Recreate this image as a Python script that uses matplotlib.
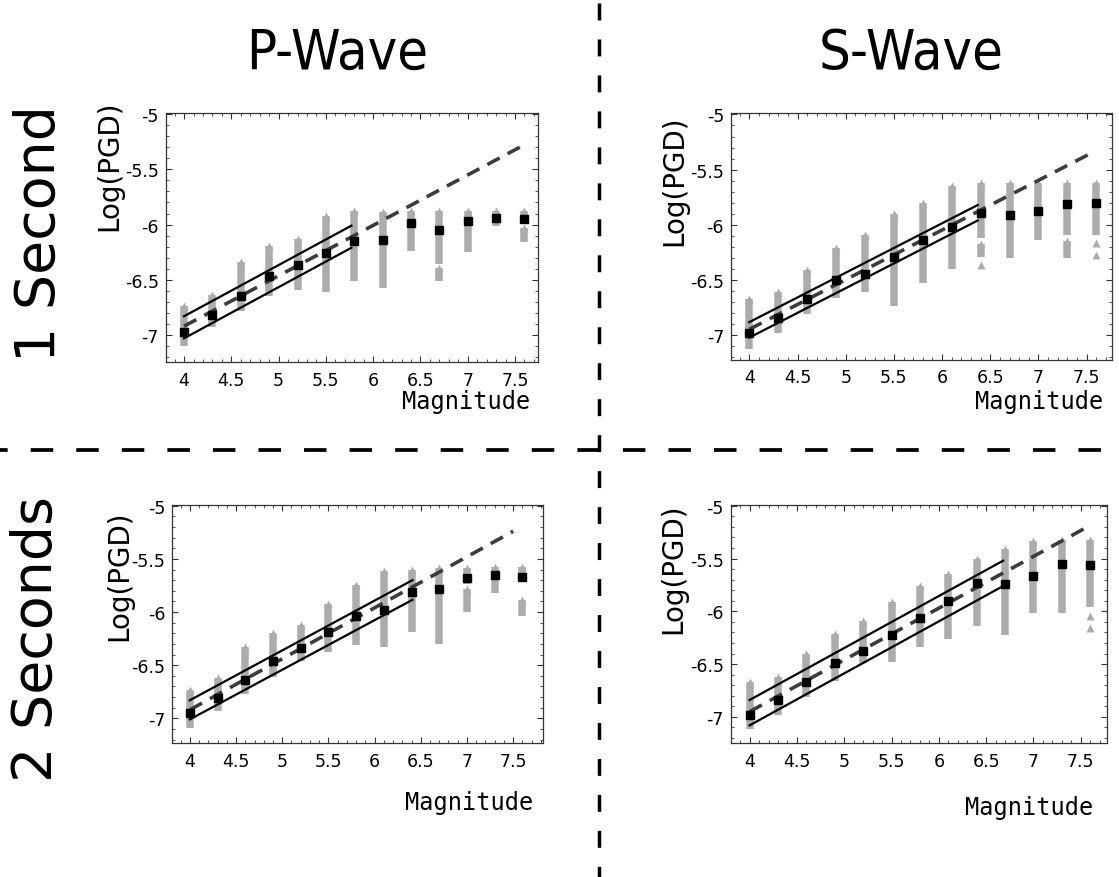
import matplotlib
matplotlib.use("Agg")
import matplotlib.pyplot as plt
from matplotlib.lines import Line2D
from matplotlib.ticker import MultipleLocator, FormatStrFormatter
from matplotlib import font_manager
from matplotlib.font_manager import FontProperties

plt.rcParams['axes.unicode_minus'] = False
plt.rcParams['lines.scale_dashes'] = False

# magnitudes of the binned events (same for all four panels)
mags = [4.0, 4.3, 4.6, 4.9, 5.2, 5.5, 5.8, 6.1, 6.4, 6.7, 7.0, 7.3, 7.6]

# ---- P-wave, 1 second ----
p1_mean = [-6.97, -6.82, -6.645, -6.47, -6.37, -6.26, -6.145, -6.14, -5.99, -6.05, -5.97, -5.94, -5.95]
p1_cols = [(4.0, -6.735, -7.10), (4.3, -6.64, -6.93), (4.6, -6.34, -6.78), (4.9, -6.19, -6.65),
           (5.2, -6.13, -6.59), (5.5, -5.92, -6.61), (5.8, -5.88, -6.51), (6.1, -5.89, -6.57),
           (6.4, -5.88, -6.24), (6.7, -5.88, -6.36), (6.7, -6.39, -6.51), (7.0, -5.88, -6.25),
           (7.3, -5.88, -6.01), (7.6, -5.88, -5.98), (7.6, -6.03, -6.16)]
p1_fit = (4.0, 7.55, -6.92, -5.30)
p1_upper = (4.0, 5.77, -6.83, -6.01)
p1_lower = (4.0, 5.77, -7.03, -6.21)

# ---- S-wave, 1 second ----
s1_mean = [-6.976, -6.84, -6.67, -6.50, -6.44, -6.29, -6.14, -6.02, -5.89, -5.91, -5.87, -5.81, -5.80]
s1_cols = [(4.0, -6.67, -7.12), (4.3, -6.61, -6.98), (4.6, -6.41, -6.81), (4.9, -6.21, -6.66),
           (5.2, -6.09, -6.61), (5.5, -5.90, -6.73), (5.8, -5.80, -6.53), (6.1, -5.65, -6.40),
           (6.4, -5.62, -6.12), (6.4, -6.17, -6.29), (6.4, -6.36, -6.36), (6.7, -5.62, -6.30),
           (7.0, -5.62, -6.14), (7.3, -5.62, -6.09), (7.3, -6.15, -6.30), (7.6, -5.62, -6.09),
           (7.6, -6.16, -6.16), (7.6, -6.27, -6.27)]
s1_fit = (4.0, 7.56, -6.945, -5.345)
s1_upper = (4.0, 6.37, -6.88, -5.82)
s1_lower = (4.0, 6.37, -7.02, -5.96)

# ---- P-wave, 2 seconds ----
p2_mean = [-6.95, -6.81, -6.64, -6.46, -6.34, -6.19, -6.04, -5.98, -5.81, -5.78, -5.68, -5.65, -5.67]
p2_cols = [(4.0, -6.73, -7.09), (4.3, -6.62, -6.93), (4.6, -6.33, -6.77), (4.9, -6.20, -6.61),
           (5.2, -6.12, -6.46), (5.5, -5.92, -6.38), (5.8, -5.75, -6.31), (6.1, -5.61, -6.33),
           (6.4, -5.60, -6.19), (6.7, -5.59, -6.30), (7.0, -5.59, -5.74), (7.0, -5.78, -6.00),
           (7.3, -5.58, -5.82), (7.6, -5.58, -5.71), (7.6, -5.89, -6.04)]
p2_fit = (4.0, 7.5, -6.92, -5.24)
p2_upper = (4.0, 6.41, -6.83, -5.70)
p2_lower = (4.0, 6.41, -7.01, -5.885)

# ---- S-wave, 2 seconds ----
s2_mean = [-6.98, -6.84, -6.67, -6.49, -6.38, -6.22, -6.06, -5.90, -5.73, -5.74, -5.67, -5.55, -5.56]
s2_cols = [(4.0, -6.67, -7.11), (4.3, -6.62, -6.98), (4.6, -6.40, -6.81), (4.9, -6.21, -6.66),
           (5.2, -6.09, -6.49), (5.5, -5.91, -6.48), (5.8, -5.76, -6.34), (6.1, -5.65, -6.26),
           (6.4, -5.50, -6.14), (6.7, -5.41, -6.22), (7.0, -5.33, -6.02), (7.3, -5.32, -6.02),
           (7.6, -5.32, -5.96), (7.6, -6.04, -6.04), (7.6, -6.16, -6.16)]
s2_fit = (4.0, 7.53, -6.95, -5.22)
s2_upper = (4.0, 6.68, -6.84, -5.52)
s2_lower = (4.0, 6.68, -7.08, -5.76)

W, H = 1119, 878
fig = plt.figure(figsize=(W / 100, H / 100), dpi=100)

def px(x, y):
    return x / W, 1 - y / H

def box(left, top, right, bottom):
    return [left / W, 1 - bottom / H, (right - left) / W, (bottom - top) / H]

gray = '#acacac'

def panel(rect, xlim, ylim, mean, cols, fit, upper, lower):
    ax = fig.add_axes(rect)
    for x, top, bot in cols:
        if top != bot:
            ax.vlines(x, bot, top, colors=gray, lw=5.4, capstyle='butt', zorder=1)
        ax.plot([x], [top], marker='^', ms=5.4, color=gray, mec='none', ls='none', zorder=1)
    ax.plot([fit[0], fit[1]], [fit[2], fit[3]], color='#3c3c3c', lw=2.6,
            ls=(0, (10, 6.5)), dash_capstyle='butt', zorder=2)
    ax.plot([upper[0], upper[1]], [upper[2], upper[3]], color='black', lw=1.6, zorder=3)
    ax.plot([lower[0], lower[1]], [lower[2], lower[3]], color='black', lw=1.6, zorder=3)
    ax.plot(mags, mean, 's', color='black', ms=6, zorder=4)
    ax.set_xlim(*xlim)
    ax.set_ylim(*ylim)
    ax.xaxis.set_major_locator(MultipleLocator(0.5))
    ax.xaxis.set_minor_locator(MultipleLocator(0.1))
    ax.yaxis.set_major_locator(MultipleLocator(0.5))
    ax.yaxis.set_minor_locator(MultipleLocator(0.1))
    ax.xaxis.set_major_formatter(FormatStrFormatter('%g'))
    ax.yaxis.set_major_formatter(FormatStrFormatter('%g'))
    ax.tick_params(which='both', direction='in', top=True, right=True, colors='#333333',
                   labelcolor='black', labelsize=12.5)
    ax.tick_params(which='major', length=4, width=0.8)
    ax.tick_params(which='minor', length=2, width=0.6)
    ax.tick_params(axis='x', which='major', pad=6)
    ax.tick_params(axis='y', which='major', pad=5)
    for s in ax.spines.values():
        s.set_color('#333333')
        s.set_linewidth(0.9)
    return ax

panel(box(165.7, 114, 537.7, 363.3), (3.806, 7.74), (-7.247, -4.99), p1_mean, p1_cols, p1_fit, p1_upper, p1_lower)
panel(box(731, 114.3, 1111.7, 360.7), (3.81, 7.76), (-7.22, -4.99), s1_mean, s1_cols, s1_fit, s1_upper, s1_lower)
panel(box(172.3, 505.7, 542.7, 744.3), (3.81, 7.82), (-7.235, -4.99), p2_mean, p2_cols, p2_fit, p2_upper, p2_lower)
panel(box(730.7, 505.7, 1107.3, 744.3), (3.80, 7.78), (-7.25, -4.99), s2_mean, s2_cols, s2_fit, s2_upper, s2_lower)

# y labels
for (x, y) in [(109, 166), (674, 181), (119, 576), (673, 569)]:
    fig.text(*px(x, y), 'Log(PGD)', rotation=90, ha='center', va='center', fontsize=20)

# x labels
for (x, y) in [(530, 402), (1103, 402), (533, 803), (1093, 808)]:
    fig.text(*px(x, y), 'Magnitude', ha='right', va='center', fontsize=17,
             family='DejaVu Sans Mono')

# column headings: the original uses a narrow face, take one if there is any
title_fp = FontProperties(family='DejaVu Sans')
for f in font_manager.fontManager.ttflist:
    tag = (f.name + ' ' + f.fname).lower()
    if f.style == 'normal' and f.weight in (400, 'normal', 'regular', 'book') and \
            ('narrow' in tag or 'condensed' in tag) and 'mono' not in tag and 'serif' not in tag:
        title_fp = FontProperties(fname=f.fname)
        break

titles = []
for (x, y, s) in [(337, 54, 'P-Wave'), (911, 54, 'S-Wave')]:
    titles.append(fig.text(*px(x, y), s, ha='center', va='center', fontsize=44,
                           fontproperties=title_fp))
# keep the heading about as wide as in the original (~180 px)
fig.canvas.draw()
wpx = titles[0].get_window_extent().width
for t in titles:
    t.set_fontsize(min(50, 44 * 182 / wpx))

fig.text(*px(40, 234), '1 Second', rotation=90, ha='center', va='center', fontsize=40)
fig.text(*px(37, 639), '2 Seconds', rotation=90, ha='center', va='center', fontsize=40)

# dashed separators
fig.add_artist(Line2D([0, 1], [1 - 450.7 / H] * 2, transform=fig.transFigure, color='black',
                      lw=2.7, ls=(10.7, (16.2, 16.6)), dash_capstyle='butt'))
fig.add_artist(Line2D([599 / W] * 2, [1 - 4 / H, 0], transform=fig.transFigure, color='black',
                      lw=2.5, ls=(0, (12.2, 13.7)), dash_capstyle='butt'))

fig.savefig('out.png', dpi=100)
